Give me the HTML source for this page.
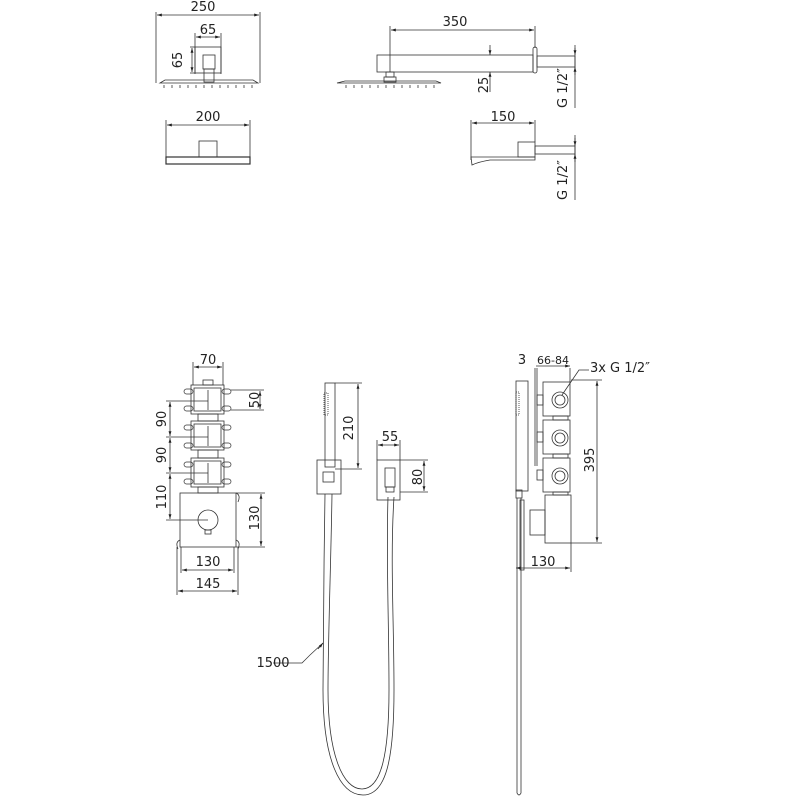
<!DOCTYPE html><html><head><style>body{margin:0;background:#fff}svg{display:block}text{font-family:"DejaVu Sans","Liberation Sans",sans-serif;font-size:13px;fill:#222}</style></head><body>
<svg width="800" height="800" viewBox="0 0 800 800" xmlns="http://www.w3.org/2000/svg">
<defs><marker id="a" viewBox="0 0 10 10" refX="10" refY="5" markerWidth="6" markerHeight="6" orient="auto-start-reverse"><path d="M0,2L10,5L0,8z" fill="#222"/></marker></defs>
<g stroke="#333" stroke-width="0.8" fill="none">
<!-- top-left head -->
<line x1="156" y1="12" x2="156" y2="83"/><line x1="260" y1="12" x2="260" y2="83"/>
<line x1="157" y1="15" x2="259" y2="15" marker-start="url(#a)" marker-end="url(#a)"/>
<line x1="195" y1="33" x2="195" y2="74"/><line x1="221" y1="33" x2="221" y2="74"/>
<line x1="196" y1="37" x2="220" y2="37" marker-start="url(#a)" marker-end="url(#a)"/>
<rect x="195" y="47" width="26" height="26"/><rect x="203" y="55" width="12" height="14"/><rect x="204" y="69" width="10" height="13"/>
<line x1="190" y1="47" x2="195" y2="47"/><line x1="190" y1="73" x2="195" y2="73"/>
<line x1="192" y1="48" x2="192" y2="72" marker-start="url(#a)" marker-end="url(#a)"/>
<path d="M160,83 L165,80 L253,80 L258,83 Z"/>
<path d="M164,85v3M172,85v3M180,85v3M188,85v3M196,85v3M204,85v3M212,85v3M220,85v3M228,85v3M236,85v3M244,85v3M252,85v3"/>
<!-- 200 -->
<line x1="166" y1="120" x2="166" y2="163"/><line x1="250" y1="120" x2="250" y2="163"/>
<line x1="167" y1="125" x2="249" y2="125" marker-start="url(#a)" marker-end="url(#a)"/>
<rect x="199" y="141" width="18" height="16"/>
<rect x="166" y="157" width="84" height="7" stroke-width="1.2"/>
<!-- top right arm -->
<line x1="390" y1="26" x2="390" y2="72"/><line x1="535" y1="26" x2="535" y2="48"/>
<line x1="391" y1="30" x2="534" y2="30" marker-start="url(#a)" marker-end="url(#a)"/>
<rect x="377" y="55" width="156" height="17"/>
<rect x="533" y="47" width="4" height="26" rx="2"/>
<rect x="537" y="56" width="38" height="11"/>
<line x1="575" y1="45" x2="575" y2="108"/>
<line x1="575" y1="48" x2="575" y2="55" marker-end="url(#a)"/><line x1="575" y1="75" x2="575" y2="67" marker-end="url(#a)"/>
<line x1="490" y1="45" x2="490" y2="55" marker-end="url(#a)"/><line x1="490" y1="92" x2="490" y2="72" marker-end="url(#a)"/>
<rect x="386" y="72" width="8" height="5"/><rect x="384" y="77" width="12" height="5"/>
<path d="M337,83 L345,81 L436,81 L441,83 Z"/>
<path d="M346,85v3M354,85v3M362,85v3M370,85v3M378,85v3M386,85v3M394,85v3M402,85v3M410,85v3M418,85v3M426,85v3M434,85v3"/>
<!-- 150 -->
<line x1="471" y1="120" x2="471" y2="160"/><line x1="535" y1="120" x2="535" y2="142"/>
<line x1="472" y1="123" x2="534" y2="123" marker-start="url(#a)" marker-end="url(#a)"/>
<rect x="518" y="142" width="17" height="15"/>
<path d="M471,157 L535,157 L535,160 L490,160 Q478,162 472,165 Z"/>
<rect x="535" y="146" width="40" height="8"/>
<line x1="575" y1="135" x2="575" y2="200"/>
<line x1="575" y1="138" x2="575" y2="146" marker-end="url(#a)"/><line x1="575" y1="162" x2="575" y2="154" marker-end="url(#a)"/>
<!-- valve front -->
<line x1="193" y1="362" x2="193" y2="385"/><line x1="223" y1="362" x2="223" y2="385"/>
<line x1="194" y1="367" x2="222" y2="367" marker-start="url(#a)" marker-end="url(#a)"/>
<rect x="203" y="380" width="10" height="5"/>
<rect x="191" y="385" width="33" height="29"/><rect x="194" y="388" width="27" height="23"/>
<rect x="191" y="421" width="33" height="29"/><rect x="194" y="424" width="27" height="23"/>
<rect x="191" y="458" width="33" height="29"/><rect x="194" y="461" width="27" height="23"/>
<rect x="198" y="414" width="20" height="7"/><rect x="198" y="450" width="20" height="8"/><rect x="198" y="487" width="20" height="6"/>
<g stroke-width="0.7">
<rect x="184" y="389" width="9" height="5" rx="2.5"/><rect x="222" y="389" width="9" height="5" rx="2.5"/>
<rect x="184" y="406" width="9" height="5" rx="2.5"/><rect x="222" y="406" width="9" height="5" rx="2.5"/>
<rect x="184" y="425" width="9" height="5" rx="2.5"/><rect x="222" y="425" width="9" height="5" rx="2.5"/>
<rect x="184" y="443" width="9" height="5" rx="2.5"/><rect x="222" y="443" width="9" height="5" rx="2.5"/>
<rect x="184" y="462" width="9" height="5" rx="2.5"/><rect x="222" y="462" width="9" height="5" rx="2.5"/>
<rect x="184" y="479" width="9" height="5" rx="2.5"/><rect x="222" y="479" width="9" height="5" rx="2.5"/>
</g>
<line x1="208" y1="390" x2="208" y2="410"/><line x1="208" y1="426" x2="208" y2="446"/><line x1="208" y1="463" x2="208" y2="483"/>
<line x1="231" y1="390" x2="264" y2="390"/><line x1="231" y1="410" x2="264" y2="410"/>
<line x1="260" y1="391" x2="260" y2="409" marker-start="url(#a)" marker-end="url(#a)"/>
<line x1="166" y1="401" x2="208" y2="401"/><line x1="166" y1="437" x2="208" y2="437"/><line x1="166" y1="473" x2="208" y2="473"/><line x1="166" y1="520" x2="208" y2="520"/>
<line x1="170" y1="402" x2="170" y2="436" marker-start="url(#a)" marker-end="url(#a)"/>
<line x1="170" y1="438" x2="170" y2="472" marker-start="url(#a)" marker-end="url(#a)"/>
<line x1="170" y1="474" x2="170" y2="519" marker-start="url(#a)" marker-end="url(#a)"/>
<rect x="180" y="493" width="56" height="54"/>
<circle cx="208" cy="520" r="10"/><rect x="205" y="530" width="6" height="4"/>
<path d="M236,493 Q241,495 238,502 M236,540 Q241,542 238,549 M180,540 Q175,542 178,549"/>
<line x1="177" y1="547" x2="177" y2="595"/><line x1="238" y1="547" x2="238" y2="595"/>
<line x1="236" y1="493" x2="265" y2="493"/><line x1="236" y1="547" x2="265" y2="547"/>
<line x1="261" y1="494" x2="261" y2="546" marker-start="url(#a)" marker-end="url(#a)"/>
<line x1="181" y1="547" x2="181" y2="573"/><line x1="234" y1="547" x2="234" y2="573"/>
<line x1="182" y1="570" x2="233" y2="570" marker-start="url(#a)" marker-end="url(#a)"/>
<line x1="178" y1="591" x2="237" y2="591" marker-start="url(#a)" marker-end="url(#a)"/>
<!-- hand shower -->
<rect x="325" y="383" width="10" height="84"/>
<rect x="324" y="393" width="4" height="22" stroke-dasharray="1,1"/>
<rect x="317" y="460" width="24" height="34"/><rect x="323" y="472" width="11" height="10"/>
<line x1="335" y1="383" x2="362" y2="383"/><line x1="335" y1="469" x2="362" y2="469"/>
<line x1="358" y1="384" x2="358" y2="468" marker-start="url(#a)" marker-end="url(#a)"/>
<rect x="377" y="460" width="23" height="40"/><rect x="385" y="468" width="10" height="19"/><rect x="386" y="487" width="8" height="5"/>
<line x1="377" y1="440" x2="377" y2="460"/><line x1="400" y1="440" x2="400" y2="460"/>
<line x1="378" y1="445" x2="399" y2="445" marker-start="url(#a)" marker-end="url(#a)"/>
<line x1="400" y1="460" x2="428" y2="460"/><line x1="400" y1="492" x2="428" y2="492"/>
<line x1="424" y1="461" x2="424" y2="491" marker-start="url(#a)" marker-end="url(#a)"/>
<path d="M325,494 C324,560 323,640 323,690 C323,760 340,795 363,795 C386,795 394,760 394,690 C394,620 390,560 394,497"/>
<path d="M332,494 C331,560 328,640 328,690 C328,755 343,789 362,789 C381,789 389,755 389,690 C389,620 386,560 388,497"/>
<path d="M273,663 L302,663 L310,655 L323,643" stroke-width="0.7"/>
<line x1="318" y1="649" x2="323" y2="643" marker-end="url(#a)"/>
<!-- side view -->
<line x1="535" y1="368" x2="535" y2="466"/><line x1="537" y1="368" x2="537" y2="466"/>
<line x1="570" y1="368" x2="570" y2="382"/>
<line x1="536" y1="366" x2="570" y2="366" marker-end="url(#a)"/>
<rect x="516" y="381" width="12" height="110"/><rect x="516" y="392" width="3" height="23" stroke-dasharray="1,1"/>
<rect x="543" y="382" width="27" height="34"/><rect x="543" y="420" width="27" height="34"/><rect x="543" y="458" width="27" height="34"/>
<rect x="537" y="395" width="6" height="10"/><rect x="537" y="432" width="6" height="10"/><rect x="537" y="470" width="6" height="10"/>
<circle cx="560" cy="400" r="8"/><circle cx="560" cy="400" r="5"/>
<circle cx="560" cy="438" r="8"/><circle cx="560" cy="438" r="5"/>
<circle cx="560" cy="476" r="8"/><circle cx="560" cy="476" r="5"/>
<rect x="553" y="416" width="15" height="4"/><rect x="553" y="454" width="15" height="4"/><rect x="553" y="492" width="15" height="3"/>
<rect x="545" y="495" width="26" height="48"/>
<rect x="530" y="510" width="15" height="25"/>
<rect x="520" y="500" width="4" height="70"/>
<line x1="571" y1="380" x2="602" y2="380"/><line x1="571" y1="543" x2="602" y2="543"/>
<line x1="597" y1="381" x2="597" y2="542" marker-start="url(#a)" marker-end="url(#a)"/>
<path d="M589,370 L579,370 L562,395"/>
<line x1="516" y1="568" x2="570" y2="568" marker-start="url(#a)" marker-end="url(#a)"/>
<line x1="571" y1="543" x2="571" y2="572"/>
<rect x="516" y="490" width="6" height="8"/>
<path d="M517,498 L517,793 Q519,797 521,793 L521,498"/>
</g>
<text x="203" y="11" text-anchor="middle">250</text>
<text x="208" y="34" text-anchor="middle">65</text>
<text transform="translate(182,60) rotate(-90)" text-anchor="middle">65</text>
<text x="208" y="121" text-anchor="middle">200</text>
<text x="455" y="26" text-anchor="middle">350</text>
<text transform="translate(488,85) rotate(-90)" text-anchor="middle">25</text>
<text transform="translate(567,88) rotate(-90)" text-anchor="middle">G 1/2″</text>
<text x="503" y="121" text-anchor="middle">150</text>
<text transform="translate(567,180) rotate(-90)" text-anchor="middle">G 1/2″</text>
<text x="208" y="364" text-anchor="middle">70</text>
<text transform="translate(259,400) rotate(-90)" text-anchor="middle">50</text>
<text transform="translate(166,419) rotate(-90)" text-anchor="middle">90</text>
<text transform="translate(166,455) rotate(-90)" text-anchor="middle">90</text>
<text transform="translate(166,497) rotate(-90)" text-anchor="middle">110</text>
<text transform="translate(259,518) rotate(-90)" text-anchor="middle">130</text>
<text x="208" y="566" text-anchor="middle">130</text>
<text x="208" y="588" text-anchor="middle">145</text>
<text transform="translate(353,428) rotate(-90)" text-anchor="middle">210</text>
<text x="390" y="441" text-anchor="middle">55</text>
<text transform="translate(422,477) rotate(-90)" text-anchor="middle">80</text>
<text x="273" y="667" text-anchor="middle">1500</text>
<text x="522" y="364" text-anchor="middle">3</text>
<text x="553" y="364" text-anchor="middle" style="font-size:11px">66-84</text>
<text x="620" y="372" text-anchor="middle">3x G 1/2″</text>
<text transform="translate(594,460) rotate(-90)" text-anchor="middle">395</text>
<text x="543" y="566" text-anchor="middle">130</text>
</svg></body></html>
